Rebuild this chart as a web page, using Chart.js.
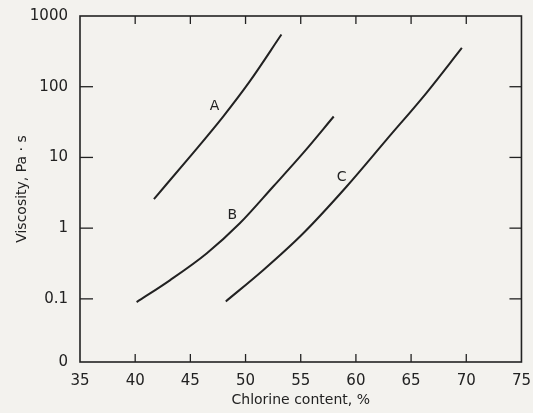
<!DOCTYPE html>
<html><head><meta charset="utf-8">
<script src="https://cdn.jsdelivr.net/npm/chart.js@4.4.1/dist/chart.umd.min.js"></script>
<style>html,body{margin:0;padding:0;background:#f3f2ee;}#wrap{width:533px;height:413px;}</style>
</head><body><div id="wrap"><canvas id="c" width="533" height="413"></canvas></div>
<script>
const seriesNames = ['A','B','C'];
const xA = [41.7, 44.95, 47.97, 50.38, 53.25];
const yA = [2.58, 10.2, 37.9, 119, 547];
const xB = [40.13, 43.14, 46.47, 49.48, 52.49, 55.21, 57.99];
const yB = [0.090, 0.183, 0.438, 1.17, 3.85, 11.5, 37.9];
const xC = [48.21, 51.59, 55.21, 59.14, 62.76, 66.38, 69.6];
const yC = [0.092, 0.254, 0.84, 3.85, 17.7, 81.4, 354];
const labelX = [47.2, 48.8, 58.7];
const labelY = [52, 1.5, 5.3];
const xTicks = [35, 40, 45, 50, 55, 60, 65, 70, 75];
const yTicks = [0.0128, 0.1, 1, 10, 100, 1000];
const yTickLabels = ['0', '0.1', '1', '10', '100', '1000'];
const innerXTicks = [40, 45, 50, 55, 60, 65, 70];
const innerYTicks = [0.1, 1, 10, 100];

const ink = '#222';
const pts = (xs, ys) => xs.map((x, i) => ({x: x, y: ys[i]}));
const ds = [[xA,yA],[xB,yB],[xC,yC]].map((p, i) => ({
  label: seriesNames[i], data: pts(p[0], p[1]), showLine: true, borderColor: ink,
  borderWidth: 2, pointRadius: 0, cubicInterpolationMode: 'monotone', fill: false
}));

const decor = {
  id: 'decor',
  afterDraw(chart) {
    const {ctx, chartArea: a, scales: {x, y}} = chart;
    ctx.save();
    ctx.strokeStyle = ink; ctx.lineWidth = 1.6;
    ctx.strokeRect(a.left, a.top, a.right - a.left, a.bottom - a.top);
    ctx.lineWidth = 1.3;
    innerXTicks.forEach(v => {
      const px = x.getPixelForValue(v);
      ctx.beginPath(); ctx.moveTo(px, a.top); ctx.lineTo(px, a.top + 8); ctx.stroke();
      ctx.beginPath(); ctx.moveTo(px, a.bottom); ctx.lineTo(px, a.bottom - 8); ctx.stroke();
    });
    innerYTicks.forEach(v => {
      const py = y.getPixelForValue(v);
      ctx.beginPath(); ctx.moveTo(a.left, py); ctx.lineTo(a.left + 13, py); ctx.stroke();
      ctx.beginPath(); ctx.moveTo(a.right, py); ctx.lineTo(a.right - 12, py); ctx.stroke();
    });
    ctx.fillStyle = ink; ctx.font = '14px "DejaVu Sans"';
    ctx.textAlign = 'center'; ctx.textBaseline = 'middle';
    seriesNames.forEach((n, i) => ctx.fillText(n, x.getPixelForValue(labelX[i]), y.getPixelForValue(labelY[i])));
    ctx.restore();
  }
};

new Chart(document.getElementById('c'), {
  type: 'scatter',
  data: {datasets: ds},
  options: {
    responsive: false, animation: false,
    layout: {padding: {top: 16, right: 11, left: 10, bottom: 0}},
    plugins: {legend: {display: false}, tooltip: {enabled: false}},
    scales: {
      x: {
        type: 'linear', min: 35, max: 75,
        afterBuildTicks: s => { s.ticks = xTicks.map(v => ({value: v})); },
        afterFit: s => { s.height = 51; },
        grid: {display: false}, border: {display: false},
        ticks: {color: ink, font: {family: 'DejaVu Sans', size: 15}, padding: 2},
        title: {display: true, text: 'Chlorine content, %', color: ink, font: {family: 'DejaVu Sans', size: 14}, padding: {top: 0}}
      },
      y: {
        type: 'logarithmic', min: 0.0128, max: 1000,
        afterBuildTicks: s => { s.ticks = yTicks.map(v => ({value: v})); },
        afterFit: s => { s.width = 70; },
        grid: {display: false}, border: {display: false},
        ticks: {color: ink, font: {family: 'DejaVu Sans', size: 15}, padding: 4,
          callback: (v) => { const i = yTicks.indexOf(v); return i >= 0 ? yTickLabels[i] : ''; }},
        title: {display: true, text: 'Viscosity, Pa · s', color: ink, font: {family: 'DejaVu Sans', size: 14}, padding: {bottom: 2}}
      }
    }
  },
  plugins: [decor]
});
</script></body></html>
